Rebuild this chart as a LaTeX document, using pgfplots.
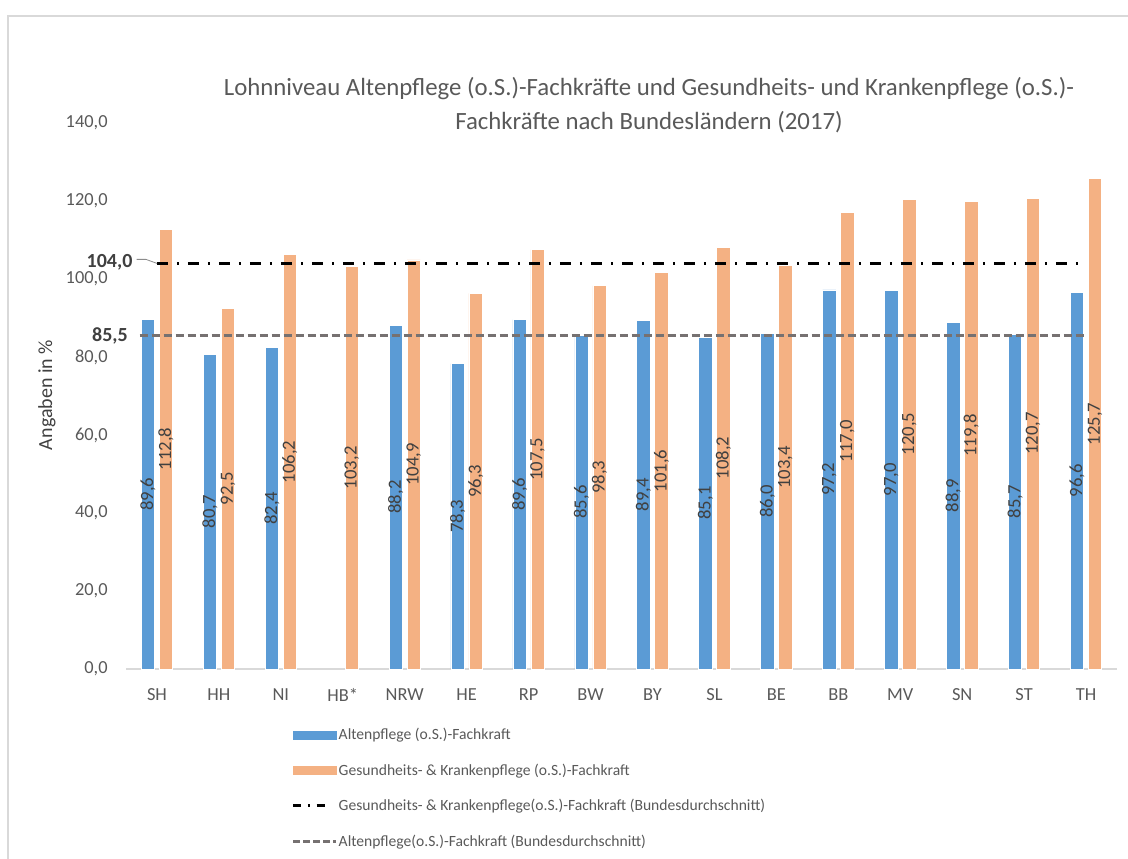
\documentclass[border=0pt]{standalone}
\usepackage{pgfplots}
\pgfplotsset{compat=1.18}
\usepackage{pgfplotstable}
\usepackage{fontspec}
\setmainfont{Carlito}

\definecolor{altblue}{HTML}{5B9BD5}
\definecolor{gkporange}{HTML}{F4B183}
\definecolor{txtgray}{HTML}{595959}
\definecolor{lbldark}{HTML}{404040}
\definecolor{avggray}{HTML}{767171}
\definecolor{framegray}{HTML}{D9D9D9}

% Altenpflege (no value for HB*, index 3)
\pgfplotstableread{
idx v
0 89.6
1 80.7
2 82.4
4 88.2
5 78.3
6 89.6
7 85.6
8 89.4
9 85.1
10 86.0
11 97.2
12 97.0
13 88.9
14 85.7
15 96.6
}\alt

% Gesundheits- und Krankenpflege
\pgfplotstableread{
idx v
0 112.8
1 92.5
2 106.2
3 103.2
4 104.9
5 96.3
6 107.5
7 98.3
8 101.6
9 108.2
10 103.4
11 117.0
12 120.5
13 119.8
14 120.7
15 125.7
}\gkp

\begin{document}
\begin{tikzpicture}
\path[use as bounding box] (0,0) rectangle (846pt,644.25pt);
\draw[framegray, line width=1.2pt] (6pt,0) -- (6pt,632.25pt) -- (846pt,632.25pt);

\node[align=center, text=txtgray, font=\fontsize{18.6}{25.5}\selectfont]
  at (486.75pt,565.5pt)
  {Lohnniveau Altenpflege (o.S.)-Fachkräfte und Gesundheits- und Krankenpflege (o.S.)-\\
   Fachkräfte nach Bundesländern (2017)};
\node[rotate=90, text=lbldark, font=\fontsize{15}{17}\selectfont]
  at (35.25pt,348pt) {Angaben in \%};

\begin{axis}[
    at={(94.5pt,142.5pt)}, anchor=south west,
    scale only axis,
    width=743.25pt, height=409.5pt,
    xmin=-0.5, xmax=15.5,
    ymin=0, ymax=140,
    xtick={0,...,15},
    xticklabels={SH,HH,NI,HB*,NRW,HE,RP,BW,BY,SL,BE,BB,MV,SN,ST,TH},
    ytick={0,20,...,140},
    major tick length=0pt,
    axis lines*=left,
    x axis line style={draw=framegray, line width=1pt},
    y axis line style={draw=none},
    /pgf/number format/assume math mode=true,
    yticklabel={\pgfmathprintnumber[fixed, fixed zerofill, precision=1, use comma]{\tick}},
    yticklabel style={text=txtgray, font=\fontsize{13.8}{16}\selectfont, inner sep=0pt, xshift=-13.6pt},
    xticklabel style={text=txtgray, font=\fontsize{13.8}{16}\selectfont, yshift=-11pt},
    legend style={at={(axis description cs:0.163,-0.101)}, anchor=north west,
        draw=none, fill=none, row sep=14.5pt,
        font=\fontsize{11.7}{14}\selectfont, text=txtgray,
        nodes={inner sep=1pt}},
    legend cell align=left,
    clip=false,
]
\addplot[ybar, bar width=10pt, bar shift=-6.75pt, fill=altblue, draw=white, line width=0.5pt,
    legend image code/.code={\fill[altblue] (0pt,-3pt) rectangle (32pt,3pt);}]
    table[x=idx, y=v] {\alt};
\addlegendentry{Altenpflege (o.S.)-Fachkraft}
\addplot[ybar, bar width=10pt, bar shift=6.75pt, fill=gkporange, draw=white, line width=0.5pt,
    legend image code/.code={\fill[gkporange] (0pt,-3pt) rectangle (32pt,3pt);}]
    table[x=idx, y=v] {\gkp};
\addlegendentry{Gesundheits- \& Krankenpflege (o.S.)-Fachkraft}
\addplot[black, line width=2.2pt, dash pattern=on 8.25pt off 6.75pt on 1.5pt off 6.75pt,
    legend image code/.code={\draw[black, line width=2.2pt, dash pattern=on 6pt off 5pt on 1.5pt off 5pt] (0pt,0pt) -- (28pt,0pt);}]
    coordinates {(0,104) (15,104)};
\addlegendentry{Gesundheits- \& Krankenpflege(o.S.)-Fachkraft (Bundesdurchschnitt)}
\addplot[avggray, line width=2.2pt, dash pattern=on 6pt off 3pt,
    legend image code/.code={\draw[avggray, line width=2.2pt, dash pattern=on 5pt off 2.5pt] (0pt,0pt) -- (32pt,0pt);}]
    coordinates {(-0.28,85.5) (15,85.5)};
\addlegendentry{Altenpflege(o.S.)-Fachkraft (Bundesdurchschnitt)}

% value labels, centred in the bars
\addplot[forget plot, draw=none, mark=none, point meta=explicit,
    nodes near coords={\pgfmathprintnumber[fixed, fixed zerofill, precision=1, use comma]{\pgfplotspointmeta}},
    every node near coord/.style={xshift=-6.75pt, rotate=90, anchor=center,
        text=lbldark, font=\fontsize{14}{16}\selectfont}]
    table[x=idx, y expr=\thisrow{v}/2, meta=v] {\alt};
\addplot[forget plot, draw=none, mark=none, point meta=explicit,
    nodes near coords={\pgfmathprintnumber[fixed, fixed zerofill, precision=1, use comma]{\pgfplotspointmeta}},
    every node near coord/.style={xshift=6.75pt, rotate=90, anchor=center,
        text=lbldark, font=\fontsize{14}{16}\selectfont}]
    table[x=idx, y expr=\thisrow{v}/2, meta=v] {\gkp};

\node[anchor=east, inner sep=0pt, text=lbldark, font=\bfseries\fontsize{15}{18}\selectfont]
  at (axis cs:-0.5,104) [xshift=5pt, yshift=0.5pt] {104,0};
\node[anchor=east, inner sep=0pt, text=lbldark, font=\bfseries\fontsize{15}{18}\selectfont]
  at (axis cs:-0.5,85.5) [xshift=1.5pt] {85,5};
\draw[txtgray!70, line width=0.6pt] (axis cs:-0.5,104) ++(8pt,3pt) -- ++(7pt,0pt) -- (axis cs:0,104);
\end{axis}
\end{tikzpicture}
\end{document}
